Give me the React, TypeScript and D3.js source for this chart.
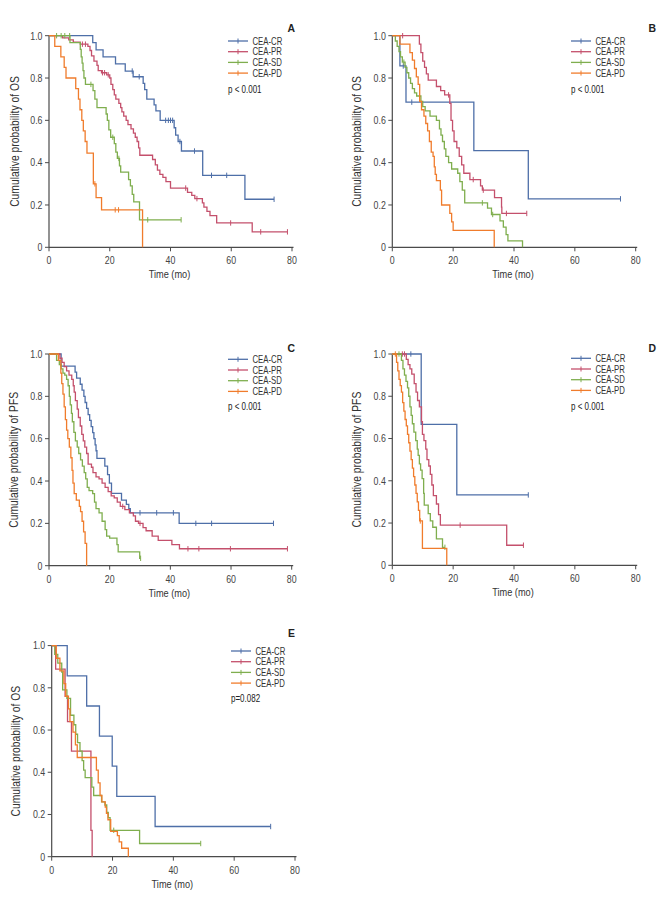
import React from "react";
import * as d3 from "d3";

type Ev = [number, number];

const groups = ["CEA-CR", "CEA-PR", "CEA-SD", "CEA-PD"];
const colors = ["#4e6fa8", "#c4506c", "#7fae4e", "#f07c2c"];
const xTicks = [0, 20, 40, 60, 80];
const yTicks = [0, 0.2, 0.4, 0.6, 0.8, 1.0];

// ---- panel A (OS) ----
const aCR: Ev[] = [[14.4, 0.967], [15.5, 0.933], [17.8, 0.9], [21.9, 0.867], [25.1, 0.833], [27.7, 0.806], [31.0, 0.775], [31.5, 0.745], [32.2, 0.7], [34.6, 0.673], [35.2, 0.645], [36.6, 0.6], [41.2, 0.565], [41.7, 0.53], [42.5, 0.5], [43.6, 0.455], [50.6, 0.34], [64.5, 0.227]];
const aCRc = [27.4, 29.7, 38.4, 39.3, 40.0, 40.7, 43.1, 47.9, 53.5, 58.5, 74.1];
const aPR: Ev[] = [[4.5, 0.99], [6.5, 0.98], [8.0, 0.97], [10.3, 0.96], [12.8, 0.95], [13.5, 0.93], [14.0, 0.905], [14.8, 0.88], [15.8, 0.86], [16.2, 0.835], [17.3, 0.825], [19.0, 0.815], [20.0, 0.8], [20.4, 0.77], [21.0, 0.745], [21.5, 0.72], [22.0, 0.7], [23.0, 0.68], [23.6, 0.66], [24.0, 0.64], [24.6, 0.62], [25.4, 0.6], [26.0, 0.58], [27.0, 0.56], [27.8, 0.54], [28.4, 0.52], [29.0, 0.5], [29.5, 0.47], [29.9, 0.435], [34.1, 0.415], [35.0, 0.39], [35.7, 0.365], [36.5, 0.345], [37.5, 0.33], [38.5, 0.31], [40.0, 0.28], [45.6, 0.26], [47.0, 0.245], [48.0, 0.23], [50.5, 0.21], [51.0, 0.19], [52.0, 0.17], [53.0, 0.15], [55.2, 0.115], [66.9, 0.073]];
const aPRc = [11.0, 12.0, 17.6, 18.3, 19.5, 45.0, 48.7, 59.8, 69.7, 78.5];
const aSD: Ev[] = [[6.9, 0.967], [10.3, 0.935], [10.6, 0.9], [10.9, 0.87], [11.2, 0.835], [11.5, 0.8], [12.0, 0.77], [14.5, 0.74], [15.1, 0.7], [15.8, 0.66], [18.8, 0.63], [19.2, 0.6], [19.7, 0.555], [20.3, 0.52], [21.5, 0.49], [22.0, 0.45], [22.5, 0.42], [23.2, 0.385], [23.6, 0.355], [26.2, 0.32], [26.8, 0.29], [27.4, 0.25], [27.9, 0.215], [29.8, 0.13]];
const aSDc = [2.5, 4.0, 5.2, 6.8, 13.8, 21.0, 23.0, 32.5, 43.5];
const aPD: Ev[] = [[1.9, 0.95], [3.9, 0.9], [5.0, 0.85], [5.6, 0.8], [8.8, 0.75], [9.7, 0.7], [10.2, 0.65], [10.8, 0.6], [11.3, 0.55], [11.9, 0.5], [12.5, 0.445], [14.6, 0.3], [15.5, 0.235], [17.3, 0.177], [30.8, 0]];
const aPDc = [15.1, 21.8, 22.9];

// ---- panel B (OS) ----
const bCR: Ev[] = [[2.5, 0.857], [4.5, 0.686], [26.8, 0.457], [44.7, 0.229]];
const bCRc = [3.6, 6.4, 75.0];
const bPR: Ev[] = [[8.9, 0.96], [9.4, 0.92], [10.0, 0.88], [10.6, 0.85], [11.2, 0.82], [11.8, 0.79], [14.5, 0.76], [15.9, 0.74], [17.2, 0.72], [18.9, 0.68], [19.3, 0.6], [19.8, 0.55], [20.3, 0.5], [21.2, 0.47], [22.0, 0.43], [22.8, 0.39], [23.5, 0.35], [25.5, 0.32], [29.0, 0.29], [29.6, 0.27], [33.6, 0.235], [35.9, 0.19], [36.0, 0.16]];
const bPRc = [3.4, 18.5, 26.6, 29.9, 37.5, 44.2];
const bSD: Ev[] = [[1.0, 0.975], [1.6, 0.95], [2.2, 0.925], [2.7, 0.9], [3.3, 0.875], [4.2, 0.85], [4.8, 0.825], [5.4, 0.8], [6.0, 0.775], [6.6, 0.75], [7.3, 0.73], [8.0, 0.715], [9.4, 0.69], [10.0, 0.665], [10.8, 0.645], [12.4, 0.62], [14.5, 0.6], [15.5, 0.56], [16.0, 0.53], [16.5, 0.5], [17.1, 0.465], [17.6, 0.43], [18.5, 0.4], [19.5, 0.37], [21.5, 0.35], [22.2, 0.31], [23.0, 0.27], [23.8, 0.21], [31.3, 0.185], [32.6, 0.155], [35.4, 0.125], [36.5, 0.095], [37.4, 0.06], [38.0, 0.03], [42.8, 0]];
const bSDc = [3.8, 29.6, 33.0];
const bPD: Ev[] = [[2.5, 0.96], [5.8, 0.92], [6.6, 0.885], [7.3, 0.845], [7.9, 0.805], [8.5, 0.77], [9.0, 0.69], [9.6, 0.65], [10.4, 0.62], [11.0, 0.585], [11.6, 0.55], [12.2, 0.5], [12.8, 0.45], [13.4, 0.43], [13.8, 0.38], [14.1, 0.345], [14.5, 0.315], [15.8, 0.27], [16.2, 0.2], [18.9, 0.16], [19.5, 0.12], [20.0, 0.08], [33.5, 0]];
const bPDc: number[] = [];

// ---- panel C (PFS) ----
const cCR: Ev[] = [[4.0, 0.943], [8.6, 0.914], [9.1, 0.886], [10.3, 0.857], [10.9, 0.829], [11.5, 0.8], [11.9, 0.771], [12.4, 0.743], [12.9, 0.714], [13.4, 0.686], [13.9, 0.657], [14.4, 0.629], [14.8, 0.6], [15.2, 0.571], [15.5, 0.543], [15.8, 0.507], [18.4, 0.47], [19.3, 0.43], [19.9, 0.39], [20.6, 0.342], [23.9, 0.31], [25.5, 0.29], [26.3, 0.27], [26.8, 0.25], [42.9, 0.2]];
const cCRc = [30.0, 35.5, 41.0, 48.4, 53.6, 74.0];
const cPR: Ev[] = [[3.6, 0.98], [4.3, 0.96], [5.0, 0.94], [5.8, 0.92], [6.6, 0.9], [7.5, 0.88], [8.0, 0.85], [8.3, 0.82], [8.7, 0.78], [9.3, 0.74], [9.7, 0.7], [10.3, 0.66], [10.8, 0.62], [11.3, 0.59], [11.8, 0.56], [12.4, 0.53], [12.9, 0.48], [14.0, 0.465], [14.5, 0.44], [15.5, 0.42], [16.5, 0.41], [17.5, 0.39], [18.5, 0.37], [19.5, 0.35], [20.5, 0.33], [21.5, 0.32], [22.5, 0.3], [23.5, 0.28], [25.0, 0.265], [26.5, 0.25], [27.8, 0.235], [28.5, 0.21], [29.5, 0.2], [31.0, 0.18], [32.0, 0.165], [34.0, 0.14], [36.0, 0.12], [40.5, 0.1], [43.0, 0.08]];
const cPRc = [24.3, 30.0, 45.8, 49.4, 59.8, 78.6];
const cSD: Ev[] = [[2.5, 0.97], [3.4, 0.95], [4.0, 0.93], [4.6, 0.91], [5.2, 0.9], [5.8, 0.88], [6.3, 0.85], [6.7, 0.8], [7.0, 0.76], [7.4, 0.72], [7.7, 0.68], [8.2, 0.63], [8.7, 0.59], [9.3, 0.56], [9.8, 0.53], [10.4, 0.5], [11.0, 0.47], [11.6, 0.44], [12.1, 0.41], [12.6, 0.37], [13.2, 0.355], [14.4, 0.34], [15.0, 0.3], [15.5, 0.27], [16.5, 0.25], [17.5, 0.21], [18.5, 0.17], [19.0, 0.14], [20.0, 0.13], [22.4, 0.1], [22.8, 0.065], [29.9, 0.035]];
const cSDc = [30.2];
const cPD: Ev[] = [[3.1, 0.97], [3.9, 0.91], [4.2, 0.86], [4.6, 0.81], [5.0, 0.75], [5.4, 0.69], [5.8, 0.64], [6.2, 0.6], [6.7, 0.56], [7.2, 0.51], [7.6, 0.45], [7.9, 0.39], [8.3, 0.34], [9.0, 0.31], [10.0, 0.28], [10.4, 0.255], [10.9, 0.21], [11.4, 0.16], [11.9, 0.105], [12.4, 0]];
const cPDc: number[] = [];

// ---- panel D (PFS) ----
const dCR: Ev[] = [[9.5, 0.667], [21.2, 0.333]];
const dCRc = [6.1, 44.7];
const dPR: Ev[] = [[4.6, 0.975], [5.2, 0.95], [5.8, 0.93], [6.4, 0.905], [7.2, 0.86], [7.8, 0.82], [8.3, 0.78], [8.9, 0.75], [9.6, 0.68], [9.9, 0.62], [10.4, 0.59], [11.0, 0.55], [11.4, 0.5], [12.0, 0.47], [12.5, 0.43], [13.0, 0.38], [13.5, 0.33], [14.5, 0.29], [15.2, 0.24], [15.8, 0.19], [37.6, 0.095]];
const dPRc = [3.3, 4.0, 22.3, 43.1];
const dSD: Ev[] = [[3.0, 0.97], [3.5, 0.93], [4.0, 0.9], [4.5, 0.87], [5.0, 0.84], [5.4, 0.8], [5.8, 0.75], [6.2, 0.71], [6.6, 0.67], [7.1, 0.63], [7.7, 0.59], [8.2, 0.55], [8.5, 0.52], [8.9, 0.48], [9.3, 0.45], [9.8, 0.41], [10.3, 0.34], [10.5, 0.285], [11.8, 0.245], [12.5, 0.21], [13.3, 0.18], [14.5, 0.125], [16.5, 0.085]];
const dSDc = [2.2, 17.3];
const dPD: Ev[] = [[1.4, 0.96], [1.8, 0.92], [2.2, 0.88], [2.6, 0.85], [3.0, 0.82], [3.4, 0.77], [3.8, 0.73], [4.2, 0.69], [4.6, 0.66], [5.0, 0.62], [5.4, 0.58], [5.8, 0.54], [6.2, 0.5], [6.6, 0.46], [7.0, 0.42], [7.4, 0.38], [7.8, 0.34], [8.2, 0.3], [8.6, 0.26], [9.0, 0.21], [9.9, 0.08], [17.9, 0]];
const dPDc = [1.0, 9.2];

// ---- panel E (OS) ----
const eCR: Ev[] = [[5.1, 0.857], [11.5, 0.714], [15.7, 0.571], [19.9, 0.429], [21.4, 0.286], [34.0, 0.143]];
const eCRc = [72.0];
const ePR: Ev[] = [[1.3, 0.889], [4.4, 0.76], [5.2, 0.64], [6.5, 0.5], [12.9, 0.125], [13.3, 0]];
const ePRc: number[] = [];
const eSD: Ev[] = [[1.0, 0.958], [2.0, 0.917], [3.3, 0.875], [3.6, 0.79], [5.0, 0.75], [6.2, 0.67], [7.3, 0.625], [7.9, 0.58], [8.5, 0.54], [9.3, 0.5], [10.0, 0.455], [10.5, 0.41], [11.0, 0.375], [13.2, 0.33], [13.8, 0.29], [16.4, 0.26], [17.5, 0.245], [18.1, 0.21], [18.6, 0.185], [19.2, 0.125], [28.9, 0.0625]];
const eSDc = [20.4, 49.0];
const ePD: Ev[] = [[1.5, 0.94], [2.7, 0.88], [4.0, 0.82], [4.6, 0.76], [5.5, 0.7], [6.0, 0.64], [7.0, 0.59], [7.8, 0.53], [8.4, 0.47], [14.7, 0.41], [15.3, 0.35], [15.9, 0.29], [16.5, 0.26], [17.6, 0.235], [18.0, 0.205], [18.5, 0.175], [19.4, 0.12], [21.6, 0.1], [22.2, 0.07], [23.0, 0.04], [25.2, 0]];
const ePDc: number[] = [];

const FONT = "'Liberation Sans', Arial, sans-serif";

const panels = [
  { letter: "A", ylab: "Cumulative probability of OS", p: "p < 0.001", left: 49, right: 292, top: 35.7, bottom: 247.3, legX: 228, legY: 41, pY: 89.7, titleX: 15, letterX: 295, letterY: 32, curves: [[aCR, aCRc], [aPR, aPRc], [aSD, aSDc], [aPD, aPDc]] },
  { letter: "B", ylab: "Cumulative probability of OS", p: "p < 0.001", left: 392.3, right: 635.7, top: 35.7, bottom: 247.3, legX: 571, legY: 41, pY: 89.7, titleX: 356.7, letterX: 656, letterY: 32, curves: [[bCR, bCRc], [bPR, bPRc], [bSD, bSDc], [bPD, bPDc]] },
  { letter: "C", ylab: "Cumulative probability of PFS", p: "p < 0.001", left: 49, right: 291.7, top: 354, bottom: 565.7, legX: 228, legY: 359.3, pY: 406.7, titleX: 14, letterX: 295, letterY: 352, curves: [[cCR, cCRc], [cPR, cPRc], [cSD, cSDc], [cPD, cPDc]] },
  { letter: "D", ylab: "Cumulative probability of PFS", p: "p < 0.001", left: 392.3, right: 635.7, top: 354, bottom: 565.3, legX: 571, legY: 358.3, pY: 406.7, titleX: 356.7, letterX: 656, letterY: 352, curves: [[dCR, dCRc], [dPR, dPRc], [dSD, dSDc], [dPD, dPDc]] },
  { letter: "E", ylab: "Cumulative probability of OS", p: "p=0.082", left: 51.7, right: 295, top: 645.6, bottom: 856.7, legX: 231, legY: 651, pY: 698.7, titleX: 16, letterX: 295, letterY: 637, curves: [[eCR, eCRc], [ePR, ePRc], [eSD, eSDc], [ePD, ePDc]] },
];

function stepPoints(ev: Ev[], cens: number[]): Ev[] {
  const pts: Ev[] = [[0, 1], ...ev];
  const last = pts[pts.length - 1];
  const endT = Math.max(last[0], ...cens);
  if (endT > last[0]) pts.push([endT, last[1]]);
  return pts;
}

function survAt(ev: Ev[], t: number) {
  let s = 1;
  for (const [et, es] of ev) if (et <= t) s = es;
  return s;
}

// condensed-looking text (no narrow font installed)
function Txt({ x, y, size, sx = 0.8, anchor = "start", rotate = 0, fill = "#444", weight = "normal", children }: any) {
  return (
    <text
      transform={`translate(${x},${y})${rotate ? ` rotate(${rotate})` : ""} scale(${sx},1)`}
      textAnchor={anchor}
      fontSize={size}
      fontFamily={FONT}
      fontWeight={weight}
      fill={fill}
    >
      {children}
    </text>
  );
}

function Panel({ cfg }: { cfg: any }) {
  const x = d3.scaleLinear().domain([0, 80]).range([cfg.left, cfg.right]);
  const y = d3.scaleLinear().domain([0, 1]).range([cfg.bottom, cfg.top]);
  const line = d3
    .line<Ev>()
    .x((d) => x(d[0]))
    .y((d) => y(d[1]))
    .curve(d3.curveStepAfter);
  const axisCol = "#4a4a4a";
  const midY = (cfg.top + cfg.bottom) / 2;
  return (
    <g>
      {/* axes */}
      <line x1={cfg.left} x2={cfg.left} y1={cfg.bottom} y2={cfg.top} stroke={axisCol} strokeWidth={1.2} />
      <line x1={cfg.left} x2={cfg.right + 1.5} y1={cfg.bottom} y2={cfg.bottom} stroke={axisCol} strokeWidth={1.2} />
      {yTicks.map((t) => (
        <g key={"y" + t}>
          <line x1={cfg.left - 4} x2={cfg.left} y1={y(t)} y2={y(t)} stroke={axisCol} strokeWidth={1} />
          <Txt x={cfg.left - 6.5} y={y(t) + 3.8} size={11} anchor="end">
            {t === 0 ? "0" : t.toFixed(1)}
          </Txt>
        </g>
      ))}
      {xTicks.map((t) => (
        <g key={"x" + t}>
          <line x1={x(t)} x2={x(t)} y1={cfg.bottom} y2={cfg.bottom + 4} stroke={axisCol} strokeWidth={1} />
          <Txt x={x(t)} y={cfg.bottom + 17} size={11} anchor="middle">
            {t}
          </Txt>
        </g>
      ))}
      <Txt x={(cfg.left + cfg.right) / 2 - 1} y={cfg.bottom + 31} size={11.5} sx={0.8} anchor="middle" fill="#333">
        Time (mo)
      </Txt>
      <Txt x={cfg.titleX + 4} y={midY} size={12} sx={0.86} rotate={-90} anchor="middle" fill="#333">
        {cfg.ylab}
      </Txt>
      <Txt x={cfg.letterX} y={cfg.letterY} size={11} sx={0.95} anchor="end" weight="bold" fill="#222">
        {cfg.letter}
      </Txt>
      {/* curves */}
      {cfg.curves.map(([ev, cens]: [Ev[], number[]], i: number) => (
        <g key={"c" + i} stroke={colors[i]} strokeWidth={1.3} fill="none">
          <path d={line(stepPoints(ev, cens)) || ""} />
          {cens.map((c: number, j: number) => (
            <line key={j} x1={x(c)} x2={x(c)} y1={y(survAt(ev, c)) - 2.7} y2={y(survAt(ev, c)) + 2.7} strokeWidth={1} />
          ))}
        </g>
      ))}
      {/* legend */}
      {groups.map((g, i) => {
        const ly = cfg.legY + i * 10.7;
        return (
          <g key={g}>
            <line x1={cfg.legX} x2={cfg.legX + 20} y1={ly} y2={ly} stroke={colors[i]} strokeWidth={1.3} />
            <line x1={cfg.legX + 10} x2={cfg.legX + 10} y1={ly - 2.5} y2={ly + 2.5} stroke={colors[i]} strokeWidth={1} />
            <Txt x={cfg.legX + 24.5} y={ly + 3.5} size={10} sx={0.78} fill="#333">
              {g}
            </Txt>
          </g>
        );
      })}
      <Txt x={cfg.legX} y={cfg.pY + 3.6} size={10} sx={0.8} fill="#222">
        {cfg.p}
      </Txt>
    </g>
  );
}

export default function App() {
  return (
    <svg width={669} height={900} style={{ position: "absolute", left: 0, top: 0, background: "#fff" }}>
      <rect width={669} height={900} fill="#fff" />
      {panels.map((p) => (
        <Panel key={p.letter} cfg={p} />
      ))}
    </svg>
  );
}
